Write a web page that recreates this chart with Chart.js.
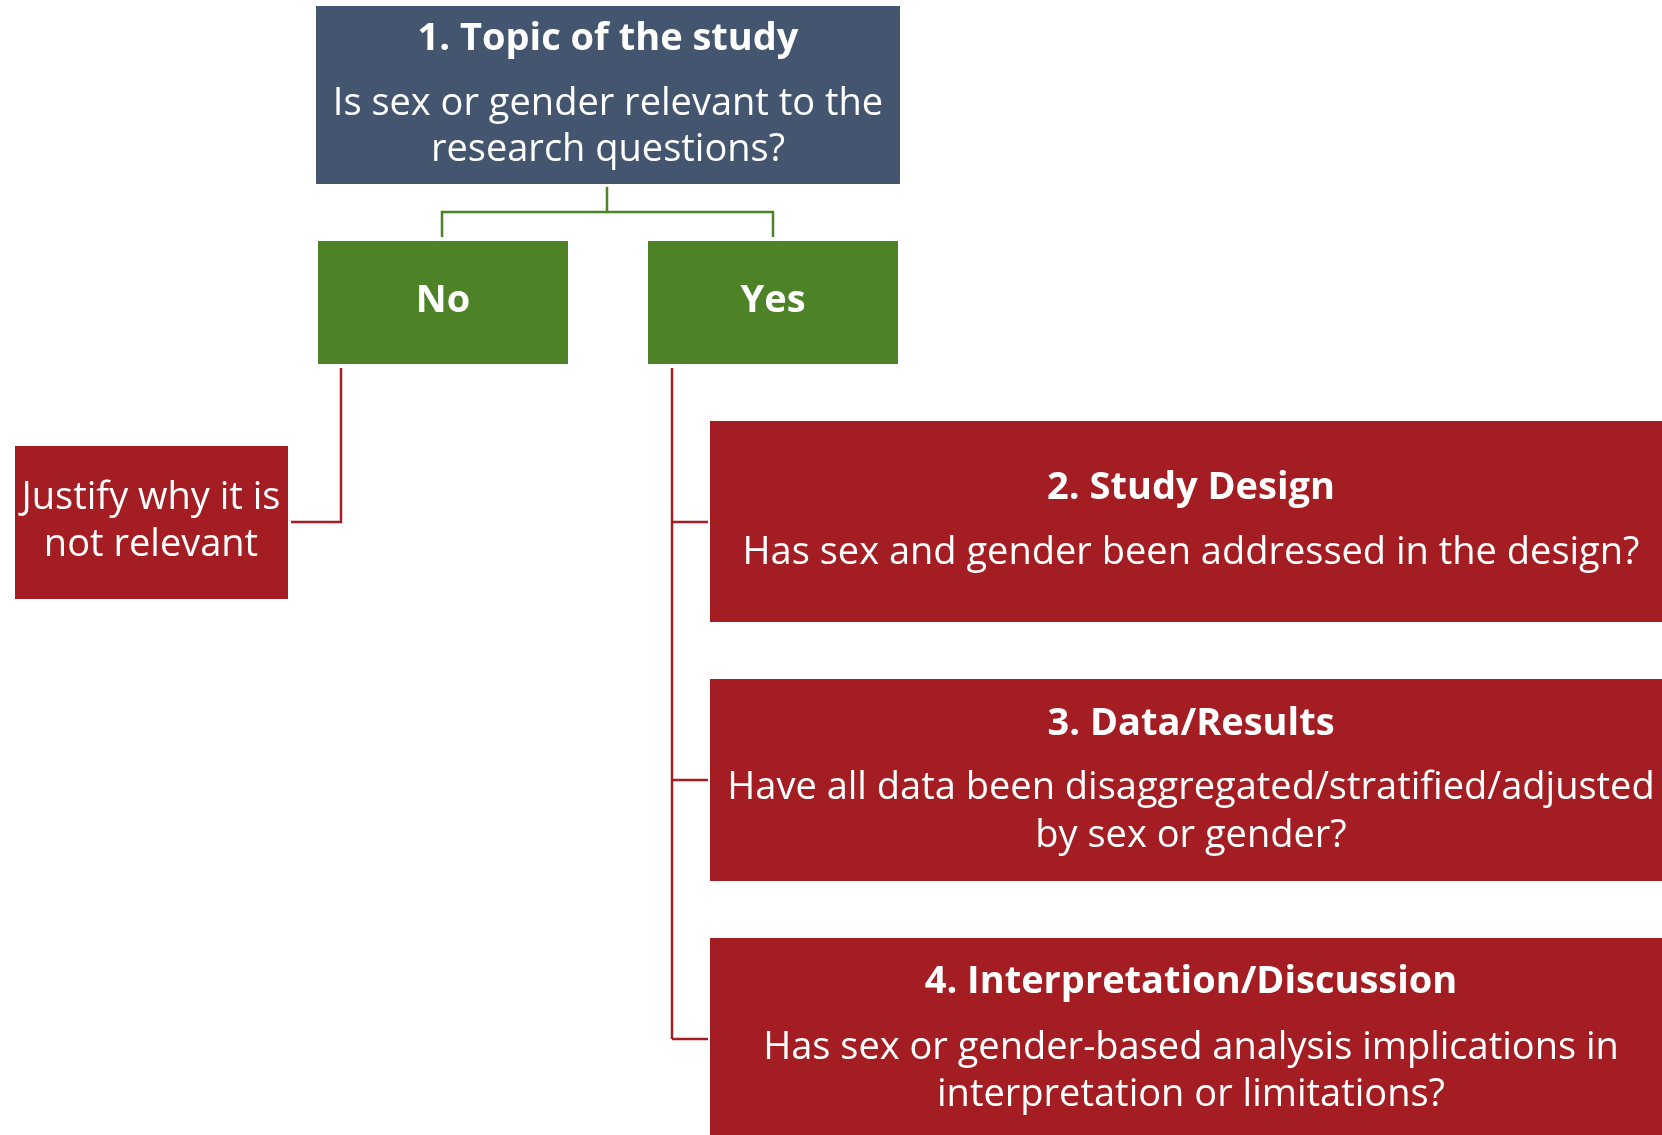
<!DOCTYPE html>
<html>
<head>
<meta charset="utf-8">
<script src="https://cdn.jsdelivr.net/npm/chart.js@4.4.1/dist/chart.umd.min.js"></script>
<style>
  html, body { margin: 0; padding: 0; background: #fff; overflow: hidden; }
  #wrap { width: 1662px; height: 1135px; }
</style>
</head>
<body>
<div id="wrap"><canvas id="flowChart"></canvas></div>
<script>
// Flowchart content
const nodeTitles = ['1. Topic of the study', 'No', 'Yes', '', '2. Study Design', '3. Data/Results', '4. Interpretation/Discussion'];
const nodeBodies = [
  ['Is sex or gender relevant to the', 'research questions?'],
  [],
  [],
  ['Justify why it is', 'not relevant'],
  ['Has sex and gender been addressed in the design?'],
  ['Have all data been disaggregated/stratified/adjusted', 'by sex or gender?'],
  ['Has sex or gender-based analysis implications in', 'interpretation or limitations?']
];
const nodeKinds = ['question', 'answer', 'answer', 'step', 'step', 'step', 'step'];
// parent -> child
const links = [[0, 1], [0, 2], [1, 3], [2, 4], [2, 5], [2, 6]];

// Layout (in reference pixel units, mapped through the chart scales)
const boxes = [
  [316, 6, 900, 184],
  [318, 241, 568, 364],
  [648, 241, 898, 364],
  [15, 446, 288, 599],
  [710, 421, 1690, 622],
  [710, 679, 1690, 881],
  [710, 938, 1690, 1150]
];
const textX = [608, 443, 773, 151, 1191, 1191, 1191];
const titleY = [39, 301, 301, null, 488, 724, 982];
const bodyY = [[104, 150], [], [], [498, 545], [553], [788, 836], [1048, 1095]];

const connectors = [
  { color: '#4E8226', pts: [[607, 187], [607, 212]] },
  { color: '#4E8226', pts: [[442, 237], [442, 212], [773, 212], [773, 237]] },
  { color: '#A31D22', pts: [[341, 368], [341, 522], [291, 522]] },
  { color: '#A31D22', pts: [[672, 368], [672, 1039]] },
  { color: '#A31D22', pts: [[672, 522], [708, 522]] },
  { color: '#A31D22', pts: [[672, 780], [708, 780]] },
  { color: '#A31D22', pts: [[672, 1039], [708, 1039]] }
];

const kindColors = { question: '#43556F', answer: '#4E8226', step: '#A31D22' };

const flowPlugin = {
  id: 'flow',
  afterDatasetsDraw(chart) {
    const ctx = chart.ctx;
    const x = chart.scales.x;
    const y = chart.scales.y;
    ctx.save();

    // connectors
    connectors.forEach(c => {
      ctx.strokeStyle = c.color;
      ctx.lineWidth = 2.5;
      ctx.beginPath();
      c.pts.forEach((p, i) => {
        const px = x.getPixelForValue(p[0]);
        const py = y.getPixelForValue(p[1]);
        if (i === 0) ctx.moveTo(px, py); else ctx.lineTo(px, py);
      });
      ctx.stroke();
    });

    // boxes and text
    boxes.forEach((b, i) => {
      const x0 = x.getPixelForValue(b[0]);
      const x1 = x.getPixelForValue(b[2]);
      const y0 = y.getPixelForValue(b[1]);
      const y1 = y.getPixelForValue(b[3]);
      ctx.fillStyle = kindColors[nodeKinds[i]];
      ctx.fillRect(x0, y0, x1 - x0, y1 - y0);

      ctx.fillStyle = '#ffffff';
      ctx.textAlign = 'center';
      ctx.textBaseline = 'middle';
      const cx = x.getPixelForValue(textX[i]);
      if (nodeTitles[i]) {
        ctx.font = 'bold 38px "Open Sans", "Noto Sans", sans-serif';
        ctx.fillText(nodeTitles[i], cx, y.getPixelForValue(titleY[i]));
      }
      ctx.font = '38px "Open Sans", "Noto Sans", sans-serif';
      nodeBodies[i].forEach((line, j) => {
        ctx.fillText(line, cx, y.getPixelForValue(bodyY[i][j]));
      });
    });
    ctx.restore();
  }
};

const ctx = document.getElementById('flowChart').getContext('2d');
new Chart(ctx, {
  type: 'scatter',
  data: {
    datasets: [{
      label: 'nodes',
      data: boxes.map(b => ({ x: (b[0] + b[2]) / 2, y: (b[1] + b[3]) / 2 })),
      pointRadius: 0,
      showLine: false
    }]
  },
  options: {
    responsive: true,
    maintainAspectRatio: false,
    animation: false,
    layout: { padding: 0 },
    plugins: {
      legend: { display: false },
      tooltip: { enabled: false }
    },
    scales: {
      x: { type: 'linear', min: 0, max: 1662, display: false },
      y: { type: 'linear', min: 0, max: 1135, reverse: true, display: false }
    }
  },
  plugins: [flowPlugin]
});
</script>
</body>
</html>
